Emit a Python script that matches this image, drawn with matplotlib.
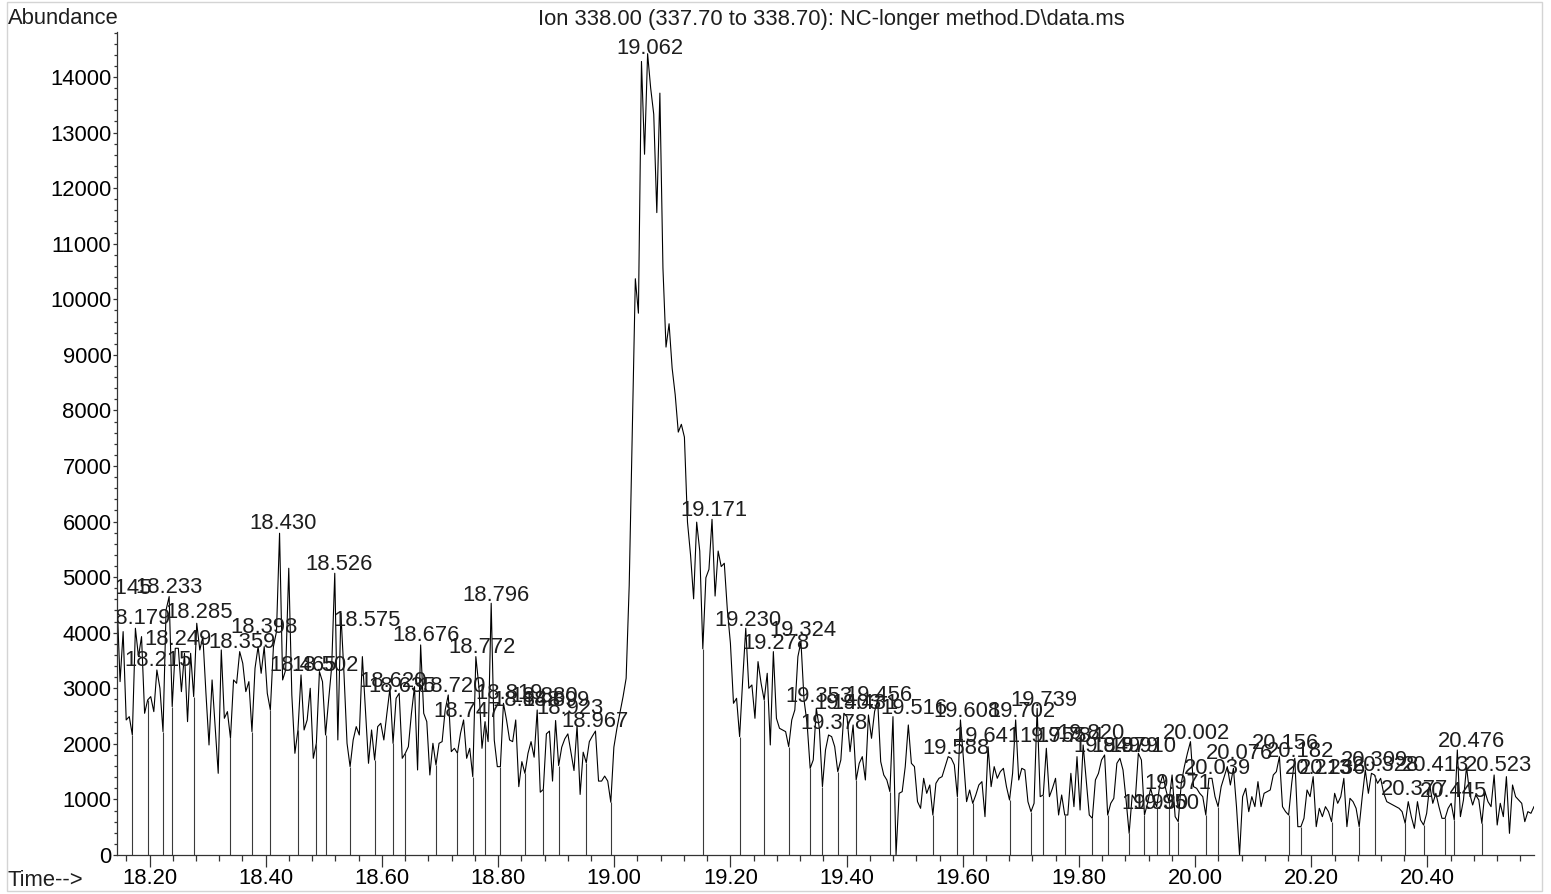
import numpy as np
import matplotlib
matplotlib.use("Agg")
import matplotlib.pyplot as plt
from matplotlib.patches import Rectangle
from matplotlib.ticker import MultipleLocator, FormatStrFormatter

plt.rcParams['font.family'] = ['Liberation Sans', 'DejaVu Sans']

# ====== Data ======
SCAN_START = 18.144   # min, first scan
SCAN_STEP = 0.00528   # min between scans

abundance = [
    4590, 3120, 4020, 2430, 2490, 2160, 4080, 3570, 3930, 2550,
    2790, 2850, 2580, 3330, 3000, 2220, 4410, 4650, 2670, 3720,
    3720, 2940, 3630, 2400, 3630, 2850, 4170, 3690, 3930, 2910,
    1980, 3150, 2310, 1470, 3690, 2460, 2580, 2100, 3150, 3090,
    3660, 3450, 2940, 3120, 2220, 3360, 3750, 3270, 3750, 2910,
    2610, 3750, 4020, 5790, 3150, 3330, 5160, 2880, 1830, 2250,
    3240, 2250, 2430, 3000, 1740, 2010, 3300, 3120,
    2160, 2790, 3390, 5070, 2070, 4350, 3270, 2010, 1590, 2070, 2310, 2160,
    3570, 2610, 1650, 2250, 1710, 2310, 2370, 2070, 2550, 3000,
    2010, 2820, 2910, 1740, 1830, 1950, 2550, 3030, 1530, 3780,
    2550, 2400, 1440, 2010, 1620, 2010, 2040, 2610, 2880, 1860,
    1920, 1830, 2190, 2430, 1740, 1920, 1410, 3570, 3030, 1920,
    2400, 2040, 4530, 2070, 1590, 1590, 2730, 2430, 2070, 2040,
    2430, 1230, 1680, 1470, 1830,
    2040, 1760, 2610, 1130, 1180, 2180, 2230, 1330, 2420, 1610,
    1940, 2090, 2180, 1850, 1520, 2330, 1090, 1850, 1660, 2040,
    2140, 2230, 1330, 1330, 1420, 1330, 950,
    1940, 2280, 2560, 2850, 3180, 4850, 7610, 10370, 9750, 14280,
    12610, 14420, 13800, 13330, 11560, 13710, 10560, 9140, 9560, 8760,
    8280, 7610, 7750, 7520, 5990, 5400, 4610, 5990,
    5470, 3710, 4990, 5140, 6040, 4660, 5470,
    5190, 5250, 4410, 3810, 2730, 2820, 2130, 3150, 4080, 3000,
    3060, 2460, 3480, 3090, 2790, 3270, 1980, 3660, 2460, 2280,
    2250, 2220, 1950, 2430, 2610, 3570, 3840, 2790, 2370, 1560,
    1710, 2640, 2280, 1230, 1890, 2160, 2130, 1950, 1500, 1710,
    2550, 2490, 1860, 2340, 1350, 1650, 1770, 1350, 2520, 2100,
    2580, 2790, 1680, 1440, 1350, 1140, 2490, 0, 1110, 1140,
    1590, 2340, 1650, 1590, 960, 840, 1380, 1110,
    1260, 720, 1290, 1380, 1410, 1590, 1770, 1740, 1620, 1050,
    2430, 1710, 960, 1170, 930, 1080, 1260, 1320, 690, 1950,
    1230, 1590, 1380, 1500, 1560, 1230, 990, 1470, 2430, 1350,
    1560, 1530, 960, 780, 930, 2640, 1050, 1080, 1920, 1050,
    1200, 1380, 720, 1080, 720, 720, 1470, 870, 1770, 810,
    1980, 1350, 720, 660, 1350, 1470, 1710, 1800, 720, 930,
    1020, 1650, 1740, 1530, 990, 390, 1080,
    990, 1830, 1710, 720, 930, 1200, 990, 870, 1260, 1440,
    1170, 960, 1440, 690, 600, 1290, 1590, 1830, 2040, 1230,
    1200, 1110, 1050, 720, 1380, 1380, 1050, 870, 1230, 1410,
    1590, 1260, 1560, 870, 0, 1050, 1200, 780, 1050, 870,
    1320, 870, 1110, 1140, 1170, 1440, 1500, 1770, 870, 780,
    720, 1290, 1740, 510, 510, 660, 1170, 1050, 1410, 510,
    840, 690, 870, 780, 600, 1110, 930,
    1050, 1380, 510, 1020, 960, 840, 510, 1050, 1530,
    1110, 1470, 1440, 1290, 1380, 1110, 960, 930, 900, 870,
    840, 780, 570, 960, 690, 480, 960, 630, 540, 750,
    1260, 930, 1110, 870, 660, 660, 840, 930, 630, 1890,
    690, 990, 1590, 1110, 900, 1080, 990, 570,
    1140, 960, 870, 1440, 540, 930, 690, 1410, 390,
    1260, 1050, 990, 930, 600, 780, 750, 870,
]

# scans where the signal drops out to zero (thin spikes down to baseline)
dropout_scans = [
    5, 10, 15, 18, 25, 37, 44, 50, 59, 65, 68, 76, 84, 90, 94, 104, 111,
    116, 120, 125, 133, 139, 144, 153, 161, 191, 203, 211, 219, 226, 230,
    235, 241, 252, 266, 274, 279, 291, 298, 302, 309, 318, 323, 330, 335,
    339, 343, 346, 355, 359, 382, 386, 396, 405, 410, 420, 426, 433, 436,
    445,
]

# peak retention-time labels and the apex abundance they sit on
peak_labels = [
    "18.145", "18.179", "18.215", "18.233", "18.249", "18.285", "18.359",
    "18.398", "18.430", "18.465", "18.502", "18.526", "18.575",
    "18.620", "18.635", "18.676", "18.720", "18.747", "18.772", "18.796",
    "18.819", "18.848", "18.880", "18.899", "18.923", "18.967", "19.062",
    "19.171", "19.230", "19.278", "19.324", "19.353", "19.378", "19.403",
    "19.431", "19.456", "19.516", "19.588", "19.608", "19.641", "19.702",
    "19.739", "19.755", "19.784", "19.820", "19.849", "19.879", "19.910",
    "19.930", "19.950", "19.971", "20.002", "20.039", "20.076", "20.156",
    "20.182", "20.213", "20.236", "20.309", "20.328", "20.377", "20.413",
    "20.445", "20.476", "20.523",
]
peak_apex = [
    4640, 4100, 3350, 4660, 3730, 4210, 3670,
    3940, 5810, 3260, 3260, 5080, 4070,
    2970, 2880, 3800, 2880, 2430, 3580, 4520,
    2750, 2630, 2700, 2630, 2480, 2250, 14360,
    6050, 4070, 3650, 3890, 2700, 2210, 2570,
    2570, 2720, 2480, 1760, 2430, 1980, 2430,
    2630, 1980, 1980, 2030, 1800, 1800, 1800,
    770, 770, 1130, 2030, 1400, 1670, 1850,
    1710, 1400, 1400, 1550, 1460, 1030, 1460,
    990, 1890, 1460,
]

TITLE = r"Ion 338.00 (337.70 to 338.70): NC-longer method.D\data.ms"

# ====== Figure ======
abundance = np.array(abundance, dtype=float)
times = SCAN_START + SCAN_STEP * np.arange(len(abundance))

fig = plt.figure(figsize=(15.51, 8.94), dpi=100)
ax = fig.add_axes([117 / 1551, 1 - 855 / 894, (1534 - 117) / 1551, (855 - 32) / 894])

ax.plot(times, abundance, color='black', lw=0.8)
ax.vlines(times[dropout_scans], 0, abundance[dropout_scans], color='#3a3a3a', lw=0.8)

fs = 15.8
for lab, top in zip(peak_labels, peak_apex):
    ax.annotate(lab, (float(lab), top), xytext=(0, 2), textcoords='offset points',
                ha='center', va='baseline', fontsize=fs, color='#1e1e1e',
                annotation_clip=False, clip_on=True)

ax.set_xlim(times[0], times[-1])
ax.set_ylim(0, 14810)

for s in ['top', 'right']:
    ax.spines[s].set_visible(False)
for s in ['left', 'bottom']:
    ax.spines[s].set_linewidth(0.9)
    ax.spines[s].set_color('#333333')

ax.xaxis.set_major_locator(MultipleLocator(0.2))
ax.xaxis.set_minor_locator(MultipleLocator(0.04))
ax.xaxis.set_major_formatter(FormatStrFormatter('%.2f'))
ax.yaxis.set_major_locator(MultipleLocator(1000))
ax.yaxis.set_minor_locator(MultipleLocator(200))
ax.tick_params(axis='x', which='major', length=8.5, width=0.9, labelsize=fs, pad=1, color='#333333')
ax.tick_params(axis='x', which='minor', length=4.5, width=0.9, color='#333333')
ax.tick_params(axis='y', which='major', length=3, width=0.9, labelsize=fs, pad=1, color='#333333')
ax.tick_params(axis='y', which='minor', length=2, width=0.9, color='#333333')

fig.text(831 / 1551, 1 - 20 / 894, TITLE, ha='center', va='center', fontsize=fs, color='#1e1e1e')
fig.text(8 / 1551, 1 - 18 / 894, 'Abundance', ha='left', va='center', fontsize=fs, color='#1e1e1e')
fig.text(8 / 1551, 1 - 880 / 894, 'Time-->', ha='left', va='center', fontsize=fs, color='#1e1e1e')

fig.patches.append(Rectangle((7 / 1551, 1 - 891 / 894), (1542 - 7) / 1551, (891 - 2) / 894,
                             transform=fig.transFigure, fill=False, edgecolor='#d4d4d4', lw=1))

fig.savefig('out.png', dpi=100)
